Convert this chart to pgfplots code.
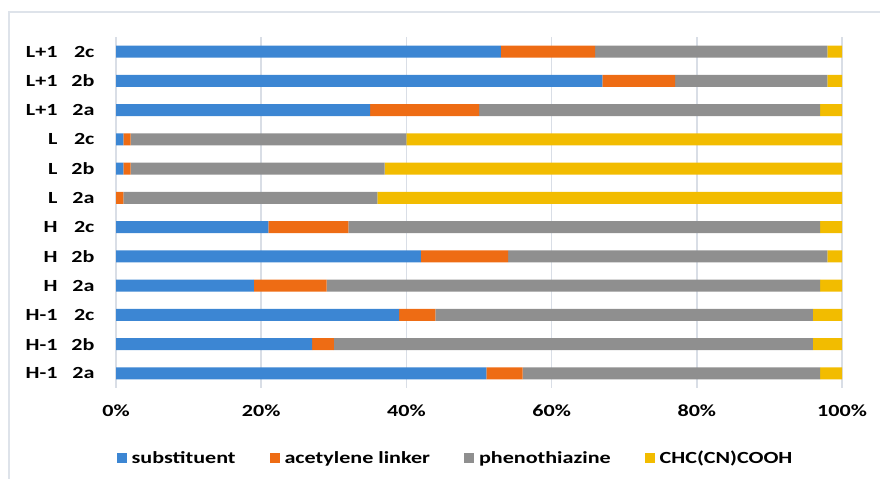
\documentclass[border=0pt]{standalone}
\usepackage{pgfplots}
\usepackage{pgfplotstable}
\usepackage{fontspec}
\pgfplotsset{compat=1.18}
\setmainfont{Carlito}[FakeStretch=1.3]

\definecolor{gridc}{HTML}{D9DEE6}
\definecolor{framec}{HTML}{DEE3EA}
\definecolor{cblue}{HTML}{3C86D3}
\definecolor{corange}{HTML}{EE6C14}
\definecolor{cgray}{HTML}{8F8F8F}
\definecolor{cyellow}{HTML}{F2BC00}

% idx 0 = bottom row (H-1 2a) ... 11 = top row (L+1 2c)
\pgfplotstableread{
idx sub ace phe chc
0  51  5 41  3
1  27  3 66  4
2  39  5 52  4
3  19 10 68  3
4  42 12 44  2
5  21 11 65  3
6   0  1 35 64
7   1  1 35 63
8   1  1 38 60
9  35 15 47  3
10 67 10 21  2
11 53 13 32  2
}\data

\newcommand\lab[2]{\makebox[36bp][r]{#1}\makebox[37bp][r]{#2}}

\begin{document}
\begin{tikzpicture}
\path[use as bounding box] (0,0) rectangle (880bp,479bp);
\draw[framec, line width=1.5bp] (9bp,0) -- (9bp,467bp) -- (880bp,467bp);
\begin{axis}[
    at={(116bp,91bp)}, anchor=south west,
    scale only axis,
    width=726bp, height=351bp,
    xbar stacked,
    bar width=12bp,
    xmin=0, xmax=100,
    ymin=-0.5, ymax=11.5,
    xtick={0,20,...,100},
    xticklabel={\pgfmathprintnumber{\tick}\%},
    ytick={0,...,11},
    yticklabels={\lab{H-1}{2a},\lab{H-1}{2b},\lab{H-1}{2c},
                 \lab{H}{2a},\lab{H}{2b},\lab{H}{2c},
                 \lab{L}{2a},\lab{L}{2b},\lab{L}{2c},
                 \lab{L+1}{2a},\lab{L+1}{2b},\lab{L+1}{2c}},
    /pgf/number format/assume math mode=true,
    ticklabel style={font=\fontsize{17bp}{20bp}\selectfont\bfseries},
    xticklabel style={anchor=center, yshift=-23bp},
    yticklabel style={anchor=east, xshift=-18bp},
    major tick length=0pt,
    axis line style={draw=none},
    xmajorgrids,
    grid style={gridc, line width=1.5bp},
    legend columns=4,
    legend style={at={(0.467,-0.1994)}, anchor=center, draw=none,
        font=\fontsize{17bp}{20bp}\selectfont\bfseries,
        /tikz/every odd column/.append style={column sep=4bp},
        /tikz/every even column/.append style={column sep=33bp},
        nodes={inner xsep=1bp}},
    legend image code/.code={\fill[#1] (0bp,-5bp) rectangle (10bp,5bp);},
]
\addplot[draw=none, fill=cblue] table[x=sub, y=idx]{\data};
\addplot[draw=none, fill=corange] table[x=ace, y=idx]{\data};
\addplot[draw=none, fill=cgray] table[x=phe, y=idx]{\data};
\addplot[draw=none, fill=cyellow] table[x=chc, y=idx]{\data};
\legend{substituent, acetylene linker, phenothiazine, CHC(CN)COOH}
\end{axis}
\end{tikzpicture}
\end{document}
